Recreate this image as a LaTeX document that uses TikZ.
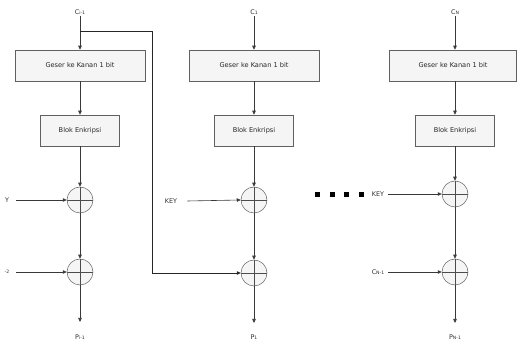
\documentclass[tikz,border=0pt]{standalone}
\usepackage{fontspec}
\setmainfont{DejaVu Sans}
\usetikzlibrary{arrows.meta}
\newcommand{\sbs}[1]{\raisebox{-0.5pt}{\fontsize{4.6}{5}\selectfont #1}}
\begin{document}
\begin{tikzpicture}[x=1pt,y=-1pt,
 box/.style={draw=gray!75!black, fill=gray!8, line width=0.5pt, minimum width=130pt, minimum height=31pt, font=\fontsize{6.6}{7.5}\selectfont, text=gray!30!black, inner sep=0pt},
 enc/.style={box, minimum width=79pt},
 xor/.style={circle, draw=gray!75!black, fill=gray!8, line width=0.5pt, minimum size=26pt, inner sep=0pt,
   path picture={\draw[gray!60!black, line width=0.5pt] (path picture bounding box.north) -- (path picture bounding box.south) (path picture bounding box.west) -- (path picture bounding box.east);}},
 lbl/.style={font=\fontsize{6.4}{7}\selectfont, text=gray!35!black, inner sep=1pt},
 arr/.style={draw=gray!45!black, line width=0.6pt, -{Triangle[length=4pt,width=3.5pt]}},
 fbline/.style={draw=black!85, line width=0.6pt, -{Triangle[length=4pt,width=3.5pt]}},
 dot/.style={fill=black, minimum size=5pt, inner sep=0pt},
]
\useasboundingbox (0,0) rectangle (517,344);

% column 1
\node[lbl] (c1) at (80,12) {C\sbs{i-1}};
\node[box] (g1) at (80,65.5) {Geser ke Kanan 1 bit};
\node[enc] (e1) at (80,130.5) {Blok Enkripsi};
\node[xor] (xa1) at (80,200) {};
\node[xor] (xb1) at (80,272) {};
\node[lbl] (k1) at (7,200) {Y};
\node[lbl] (p1l) at (7,272) {\sbs{-2}};
\coordinate (o1) at (80,322);
\node[lbl] (p1) at (80,337) {P\sbs{i-1}};
\coordinate (fb) at (80,31);

% column 2
\node[lbl] (c2) at (254,12) {C\sbs{1}};
\node[box] (g2) at (254,65.5) {Geser ke Kanan 1 bit};
\node[enc] (e2) at (254,130.5) {Blok Enkripsi};
\node[xor] (xa2) at (254,200) {};
\node[xor] (xb2) at (254,273) {};
\node[lbl] (k2) at (171,201) {KEY};
\coordinate (o2) at (254,323);
\node[lbl] (p2) at (254,337) {P\sbs{1}};

% column 3
\node[lbl] (c3) at (455,12) {C\sbs{N}};
\node[box, minimum width=127pt] (g3) at (453,65.5) {Geser ke Kanan 1 bit};
\node[enc] (e3) at (455,130.5) {Blok Enkripsi};
\node[xor] (xa3) at (455,194) {};
\node[xor] (xb3) at (455,272) {};
\node[lbl] (k3) at (378,194) {KEY};
\node[lbl] (cn) at (378,272) {C\sbs{N-1}};
\coordinate (o3) at (455,323);
\node[lbl] (p3) at (455,337) {P\sbs{N-1}};

% dots
\node[dot] (d1) at (317,195) {};
\node[dot] (d2) at (332,195) {};
\node[dot] (d3) at (346,195) {};
\node[dot] (d4) at (361,195) {};

% arrows column 1
\draw[arr] (c1.south) -- (g1.north);
\draw[arr] (g1.south) -- (e1.north);
\draw[arr] (e1.south) -- (xa1.north);
\draw[arr] (xa1.south) -- (xb1.north);
\draw[arr] (xb1.south) -- (o1);
\draw[arr] (k1.east) ++(6,0) -- (xa1.west);
\draw[arr] (p1l.east) ++(6,0) -- (xb1.west);

% arrows column 2
\draw[arr] (c2.south) -- (g2.north);
\draw[arr] (g2.south) -- (e2.north);
\draw[arr] (e2.south) -- (xa2.north);
\draw[arr] (xa2.south) -- (xb2.north);
\draw[arr] (xb2.south) -- (o2);
\draw[arr] (k2.east) ++(9,0) -- (xa2.west);

% arrows column 3
\draw[arr] (c3.south) -- (g3.north -| c3.south);
\draw[arr] (g3.south -| c3.south) -- (e3.north);
\draw[arr] (e3.south) -- (xa3.north);
\draw[arr] (xa3.south) -- (xb3.north);
\draw[arr] (xb3.south) -- (o3);
\draw[arr] (k3.east) ++(3,0) -- (xa3.west);
\draw[arr] (cn.east) ++(3,0) -- (xb3.west);

% feedback
\draw[fbline] (fb) -- (152,31) |- (xb2.west);
\end{tikzpicture}
\end{document}
